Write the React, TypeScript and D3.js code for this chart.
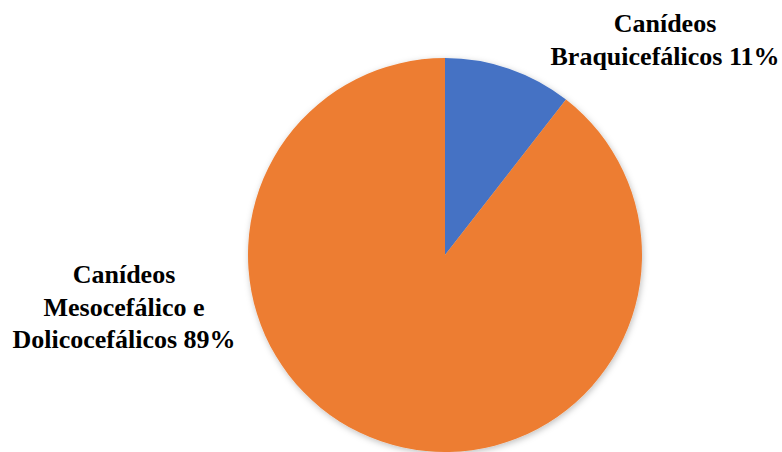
import React from "react";
import * as d3 from "d3";

const categories = ["Canídeos Braquicefálicos", "Canídeos Mesocefálico e Dolicocefálicos"];
const values = [4, 34];
const colors = ["#4472C4", "#ED7D31"];
const labelLines = [
  ["Canídeos", "Braquicefálicos"],
  ["Canídeos", "Mesocefálico e", "Dolicocefálicos"],
];

export default function App() {
  const W = 782, H = 452;
  const cx = 445, cy = 255, r = 197;
  const total = d3.sum(values);
  const pie = d3.pie<number>().sort(null).value((d) => d)(values);
  const arc = d3.arc<d3.PieArcDatum<number>>().innerRadius(0).outerRadius(r);
  const pct = values.map((v) => Math.round((v / total) * 100) + "%");
  const labelPos = [
    { x: 665, y: 32 },
    { x: 124, y: 283 },
  ];
  const lh = 32.5;
  return (
    <svg width={W} height={H} style={{ position: "absolute", left: 0, top: 0 }}>
      <defs>
        <filter id="sh" x="-10%" y="-10%" width="120%" height="120%">
          <feDropShadow dx="1" dy="2" stdDeviation="3" floodColor="#000" floodOpacity="0.25" />
        </filter>
      </defs>
      <g transform={`translate(${cx},${cy})`} filter="url(#sh)">
        {pie.map((p, i) => (
          <path key={categories[i]} d={arc(p) || ""} fill={colors[i]} />
        ))}
      </g>
      {labelLines.map((lines, i) => (
        <text
          key={i}
          x={labelPos[i].x}
          y={labelPos[i].y}
          textAnchor="middle"
          style={{ fontFamily: '"Liberation Serif", "Times New Roman", serif', fontWeight: 700, fontSize: "26px" }}
          fill="#000"
        >
          {lines.map((l, j) => (
            <tspan key={j} x={labelPos[i].x} y={labelPos[i].y + j * lh}>
              {j === lines.length - 1 ? `${l} ${pct[i]}` : l}
            </tspan>
          ))}
        </text>
      ))}
    </svg>
  );
}
